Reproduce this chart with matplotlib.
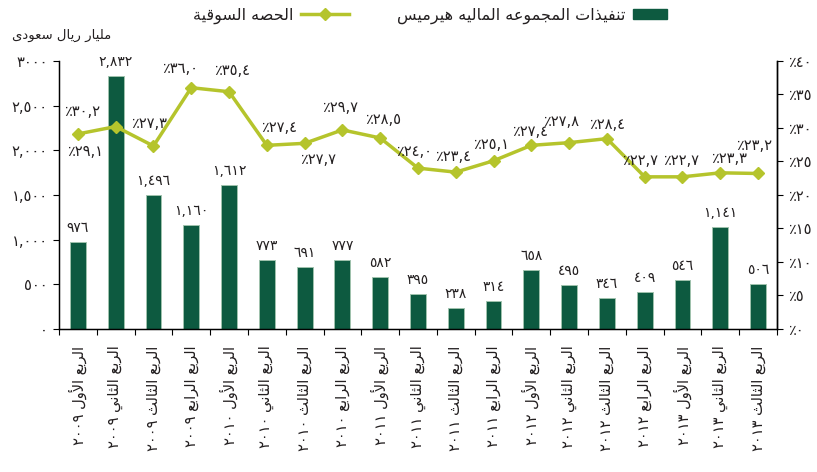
import matplotlib
matplotlib.use("Agg")
import matplotlib.pyplot as plt
from matplotlib.patches import Patch, Rectangle
from matplotlib.lines import Line2D
from matplotlib.legend_handler import HandlerPatch

# ---------------- data ----------------
quarters = ["الربع الأول", "الربع الثاني", "الربع الثالث", "الربع الرابع"] * 5
years = ["٢٠٠٩"] * 4 + ["٢٠١٠"] * 4 + ["٢٠١١"] * 4 + ["٢٠١٢"] * 4 + ["٢٠١٣"] * 3
executions = [976, 2832, 1496, 1160, 1612, 773, 691, 777, 582, 395,
              238, 314, 658, 495, 346, 409, 546, 1141, 506]
market_share = [29.1, 30.2, 27.3, 36.0, 35.4, 27.4, 27.7, 29.7, 28.5, 24.0,
                23.4, 25.1, 27.4, 27.8, 28.4, 22.7, 22.7, 23.3, 23.2]
left_ticks = [0, 500, 1000, 1500, 2000, 2500, 3000]
left_tick_labels = ["٠", "٥٠٠", "١,٠٠٠", "١,٥٠٠", "٢,٠٠٠", "٢,٥٠٠", "٣٠٠٠"]
right_ticks = [0, 5, 10, 15, 20, 25, 30, 35, 40]
bar_name = "تنفيذات المجموعه الماليه هيرميس"
line_name = "الحصه السوقية"
unit_name = "مليار ريال سعودى"

# label offsets for line values (points), style only
share_offsets = [(5, -13), (-24, 11), (-3, 16), (-8, 14), (2, 15), (9, 13), (10, -12),
                 (-2, 16), (2, 13), (-3, 12), (-2, 11), (-2, 12), (-1, 10), (-6, 15),
                 (0, 10), (-3, 12), (-1, 12), (6, 10), (-3, 20)]

# ---------------- Arabic shaping helpers ----------------
FOUR = {'ئ': 0xFE89, 'ب': 0xFE8F, 'ت': 0xFE95, 'ث': 0xFE99, 'ج': 0xFE9D, 'ح': 0xFEA1,
        'خ': 0xFEA5, 'س': 0xFEB1, 'ش': 0xFEB5, 'ص': 0xFEB9, 'ض': 0xFEBD, 'ط': 0xFEC1,
        'ظ': 0xFEC5, 'ع': 0xFEC9, 'غ': 0xFECD, 'ف': 0xFED1, 'ق': 0xFED5, 'ك': 0xFED9,
        'ل': 0xFEDD, 'م': 0xFEE1, 'ن': 0xFEE5, 'ه': 0xFEE9, 'ي': 0xFEF1}
TWO = {'آ': 0xFE81, 'أ': 0xFE83, 'ؤ': 0xFE85, 'إ': 0xFE87, 'ا': 0xFE8D, 'ة': 0xFE93,
       'د': 0xFEA9, 'ذ': 0xFEAB, 'ر': 0xFEAD, 'ز': 0xFEAF, 'و': 0xFEED, 'ى': 0xFEEF}
LAMALEF = {'آ': 0xFEF5, 'أ': 0xFEF7, 'إ': 0xFEF9, 'ا': 0xFEFB}


def shape_word(w):
    units = []
    i = 0
    while i < len(w):
        c = w[i]
        if c == 'ل' and i + 1 < len(w) and w[i + 1] in LAMALEF:
            units.append(('LA', w[i + 1]))
            i += 2
        else:
            units.append(('C', c))
            i += 1
    out = []
    for k, (t, c) in enumerate(units):
        prev = units[k - 1] if k > 0 else None
        nxt = units[k + 1] if k + 1 < len(units) else None
        join_prev = prev is not None and prev[0] == 'C' and prev[1] in FOUR
        if t == 'LA':
            b = LAMALEF[c]
            out.append(chr(b + 1 if join_prev else b))
            continue
        if c in FOUR:
            join_next = nxt is not None and (nxt[0] == 'LA' or nxt[1] in FOUR or nxt[1] in TWO)
            b = FOUR[c]
            if join_prev and join_next:
                out.append(chr(b + 3))
            elif join_prev:
                out.append(chr(b + 1))
            elif join_next:
                out.append(chr(b + 2))
            else:
                out.append(chr(b))
        elif c in TWO:
            b = TWO[c]
            out.append(chr(b + 1 if join_prev else b))
        else:
            out.append(c)
    return ''.join(reversed(out))


def ar(text):
    res = []
    for t in text.split(' '):
        if any('\u0621' <= ch <= '\u064A' for ch in t):
            res.append(shape_word(t))
        else:
            res.append(t)
    return ' '.join(reversed(res))


DIG = str.maketrans("0123456789", "٠١٢٣٤٥٦٧٨٩")


def num(v):
    return f"{v:,}".translate(DIG)


def pct(v):
    return "٪" + f"{v:.1f}".replace('.', ',').translate(DIG)


# ---------------- plot ----------------
plt.rcParams['font.family'] = ['DejaVu Sans']
TXT = '#231f20'
BAR = '#0d5a40'
LINE = '#b5c42c'

fig = plt.figure(figsize=(8.17, 4.72), dpi=100)
ax = fig.add_axes([0.0722, 0.303, 0.8788, 0.568])
x = list(range(len(executions)))

ax.bar(x, executions, width=0.42, color=BAR, edgecolor='#9fc2ad', linewidth=0.7, zorder=2)
ax.set_xlim(-0.5, len(x) - 0.5)
ax.set_ylim(0, 3000)
ax.set_yticks(left_ticks)
ax.set_yticklabels(left_tick_labels, fontsize=10.5, color=TXT)
ax.tick_params(axis='y', direction='out', length=4, width=0.8, pad=4)

xlabels = [ar(q + " " + y) for q, y in zip(quarters, years)]
ax.set_xticks(x)
ax.set_xticklabels(xlabels, rotation=90, fontsize=10.5, color=TXT)
ax.tick_params(axis='x', which='major', length=0, pad=12)
ax.set_xticks([i - 0.5 for i in range(len(x) + 1)], minor=True)
ax.tick_params(axis='x', which='minor', direction='out', length=4, width=0.8)

for i, v in enumerate(executions):
    ax.annotate(num(v), (i, v), xytext=(0, 5), textcoords='offset points',
                ha='center', va='bottom', fontsize=10, color=TXT)

ax.spines['top'].set_visible(False)
for s in ['left', 'bottom', 'right']:
    ax.spines[s].set_linewidth(1.0)

ax2 = ax.twinx()
ax2.plot(x, market_share, color=LINE, linewidth=2.5, marker='D', markersize=6,
         markeredgecolor=LINE, zorder=3)
ax2.set_ylim(0, 40)
ax2.set_yticks(right_ticks)
ax2.set_yticklabels([pct(t).replace(',٠', '') for t in right_ticks], fontsize=10.5, color=TXT)
ax2.tick_params(axis='y', direction='out', length=4, width=0.8, pad=4)
ax2.spines['top'].set_visible(False)
ax2.spines['right'].set_linewidth(1.0)

for i, v in enumerate(market_share):
    dx, dy = share_offsets[i]
    ax2.annotate(pct(v), (i, v), xytext=(dx, dy), textcoords='offset points',
                 ha='center', va='center', fontsize=10.5, color=TXT)

fig.text(0.015, 0.925, ar(unit_name), fontsize=9.5, color=TXT, ha='left', va='center')


def short_patch(legend, orig_handle, xdescent, ydescent, width, height, fontsize):
    return Rectangle((-xdescent, -ydescent), width * 0.7, height)


handles = [Line2D([0], [0], color=LINE, linewidth=2.5, marker='D', markersize=6),
           Patch(facecolor=BAR, edgecolor=BAR)]
fig.legend(handles, [ar(line_name), ar(bar_name)], loc='upper center',
           bbox_to_anchor=(0.535, 1.015), ncol=2, frameon=False, markerfirst=False,
           fontsize=11.5, handlelength=3.0, handleheight=0.6, columnspacing=3.0,
           handletextpad=0.5, labelcolor=TXT,
           handler_map={Patch: HandlerPatch(patch_func=short_patch)})

fig.savefig("out.png", dpi=100)
